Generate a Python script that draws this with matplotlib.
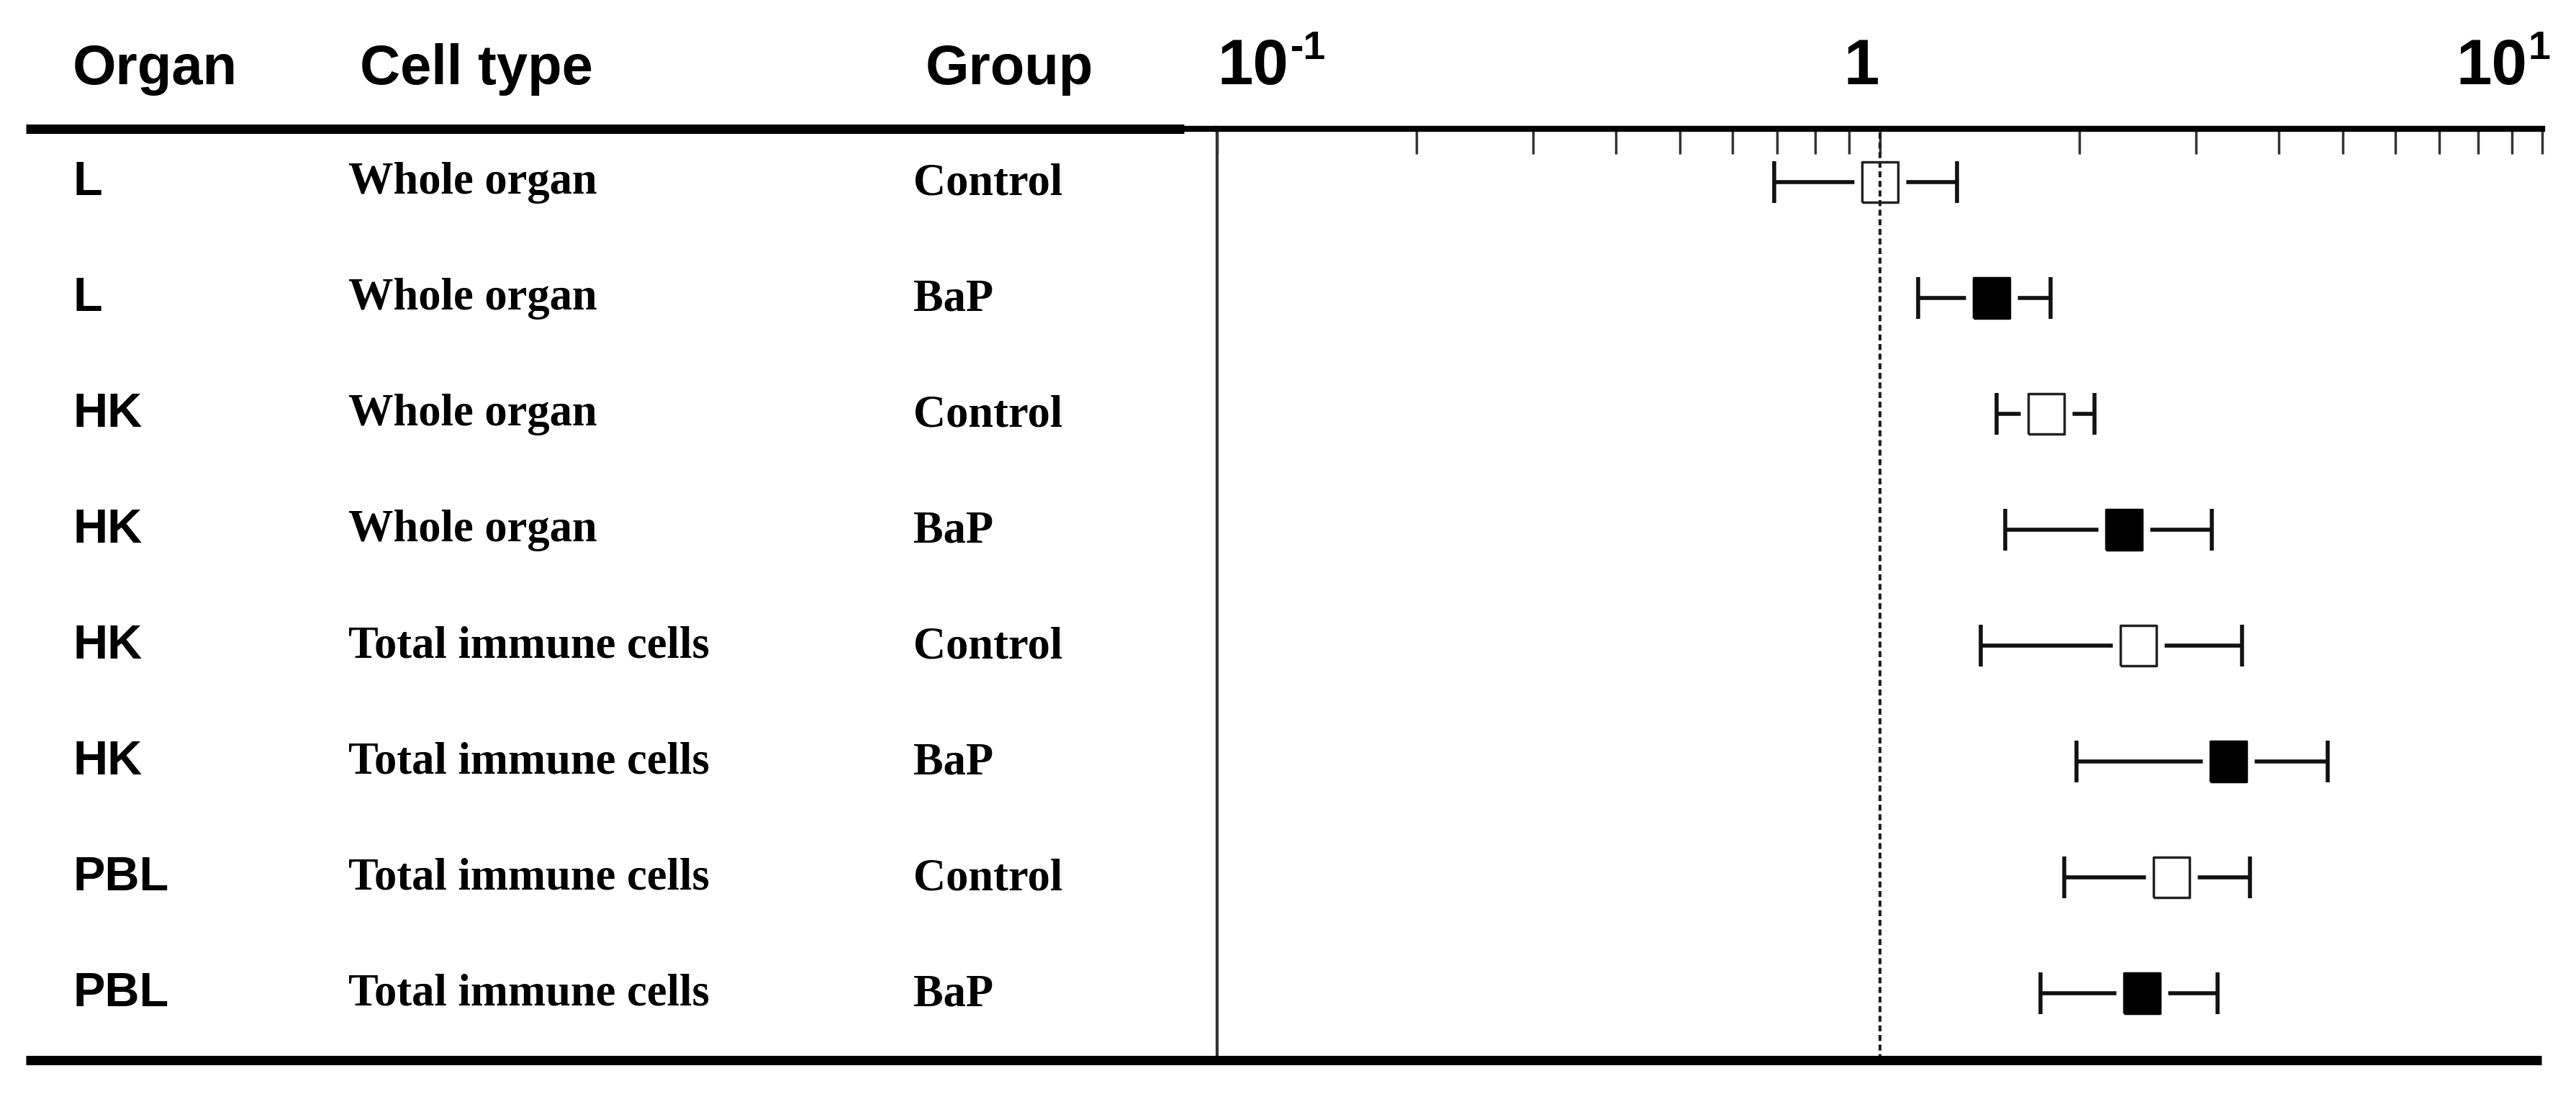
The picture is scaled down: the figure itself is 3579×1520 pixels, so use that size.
import numpy as np
import matplotlib.pyplot as plt
from matplotlib import transforms
from matplotlib.lines import Line2D

# =============================================================================
# Datos
# =============================================================================
headers = ["Organ", "Cell type", "Group"]
organs = ["L", "L", "HK", "HK", "HK", "HK", "PBL", "PBL"]
cell_types = ["Whole organ", "Whole organ", "Whole organ", "Whole organ",
              "Total immune cells", "Total immune cells",
              "Total immune cells", "Total immune cells"]
groups = ["Control", "BaP", "Control", "BaP", "Control", "BaP", "Control", "BaP"]

ratio = [1.00, 1.475, 1.785, 2.34, 2.46, 3.36, 2.76, 2.49]
ci_low = [0.693, 1.143, 1.50, 1.547, 1.42, 1.98, 1.90, 1.75]
ci_high = [1.31, 1.81, 2.11, 3.17, 3.52, 4.75, 3.62, 3.24]

# =============================================================================
# Figura
# =============================================================================
W, H = 3579, 1520
fig = plt.figure(figsize=(W / 100, H / 100), dpi=100)
fig.patch.set_facecolor("white")

ax = fig.add_axes([1691 / W, 1 - 1473 / H, (3532 - 1691) / W, (1473 - 179) / H])

y = np.arange(len(ratio))
x = np.array(ratio)
lo = np.array(ci_low)
hi = np.array(ci_high)

# barras de error
ax.errorbar(x, y, xerr=[x - lo, hi - x], fmt="none", ecolor="#111111",
            elinewidth=4, capsize=21, capthick=4, zorder=2)

# marcador rectangular (un poco más alto que ancho)
rect = [(-0.45, -0.5), (0.45, -0.5), (0.45, 0.5), (-0.45, 0.5), (-0.45, -0.5)]

# halo blanco para cortar la línea alrededor del cuadrado
ax.plot(x, y, ls="none", marker=rect, ms=58, mfc="white", mec="none", zorder=3)

es_bap = np.array([g == "BaP" for g in groups])
ax.plot(x[es_bap], y[es_bap], ls="none", marker=rect, ms=40, mfc="black",
        mec="black", mew=2.5, zorder=4)
ax.plot(x[~es_bap], y[~es_bap], ls="none", marker=rect, ms=40, mfc="white",
        mec="#222222", mew=2.5, zorder=4)

# línea de referencia en 1
ax.axvline(1, color="#222222", lw=3, ls=(0, (2, 1.2)), zorder=5)

# ejes
ax.set_xscale("log")
ax.set_xlim(0.1, 10)
ax.set_ylim(7.578, -0.46)
ax.xaxis.tick_top()
ax.set_xticks([0.1, 1, 10])
ax.tick_params(axis="x", which="both", direction="in", length=25, width=2.5,
               color="#333333", top=True, bottom=False,
               labeltop=False, labelbottom=False)
ax.set_yticks([])
for lado in ["right", "bottom"]:
    ax.spines[lado].set_visible(False)
ax.spines["top"].set_linewidth(6)
ax.spines["left"].set_linewidth(3)
ax.spines["left"].set_color("#333333")

# líneas de la tabla
fig.add_artist(Line2D([36 / W, 1645 / W], [1 - 179 / H] * 2, lw=9.4,
                      color="black", solid_capstyle="butt"))
fig.add_artist(Line2D([1645 / W, 1691 / W], [1 - 179 / H] * 2, lw=6,
                      color="black", solid_capstyle="butt"))
fig.add_artist(Line2D([36 / W, 3531 / W], [1 - 1473 / H] * 2, lw=9.4,
                      color="black", solid_capstyle="butt"))

# =============================================================================
# Textos
# =============================================================================
sans = "Liberation Sans"
serif = "Liberation Serif"
y_base = 1 - 117 / H

col_x = [101 / W, 500 / W, 1286 / W]
for hx, texto in zip(col_x, headers):
    fig.text(hx, y_base, texto, family=sans, fontsize=56, fontweight="bold",
             ha="left", va="baseline")

filas = transforms.blended_transform_factory(fig.transFigure, ax.transData)
for i in range(len(organs)):
    ax.text(101 / W, i + 0.11, organs[i], transform=filas, family=sans,
            fontsize=48, fontweight="bold", ha="left", va="baseline")
    ax.text(484 / W, i + 0.10, cell_types[i], transform=filas, family=serif,
            fontsize=45, fontweight="bold", ha="left", va="baseline")
    ax.text(1269 / W, i + 0.11, groups[i], transform=filas, family=serif,
            fontsize=45, fontweight="bold", ha="left", va="baseline")

# etiquetas del eje logarítmico
arriba = transforms.blended_transform_factory(ax.transData, fig.transFigure)
t1 = ax.text(0.1, y_base, "10", transform=arriba, family=sans, fontsize=64,
             fontweight="bold", ha="left", va="baseline")
ax.annotate("-1", xy=(1, 1), xycoords=t1, xytext=(2, 7),
            textcoords="offset points", family=sans, fontsize=40,
            fontweight="bold", ha="left", va="top")
ax.annotate("1", xy=(1, y_base), xycoords=arriba, xytext=(-18, 0),
            textcoords="offset points", family=sans, fontsize=64,
            fontweight="bold", ha="center", va="baseline")
t3 = ax.annotate("10", xy=(10, y_base), xycoords=arriba, xytext=(-15, 0),
                 textcoords="offset points", family=sans, fontsize=64,
                 fontweight="bold", ha="right", va="baseline")
ax.annotate("1", xy=(1, 1), xycoords=t3, xytext=(1, 7),
            textcoords="offset points", family=sans, fontsize=40,
            fontweight="bold", ha="left", va="top")

fig.savefig("out.png", dpi=100, facecolor="white")
